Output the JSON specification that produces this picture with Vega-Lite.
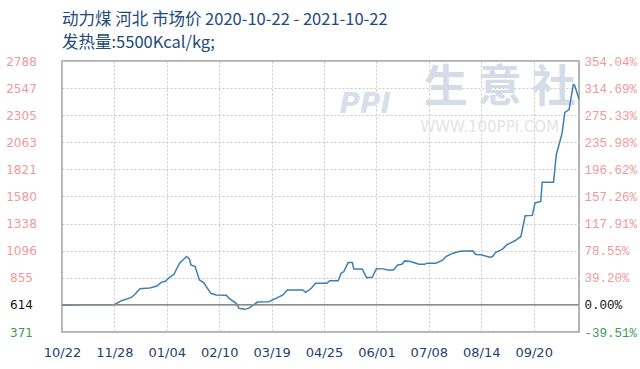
{
  "$schema": "https://vega.github.io/schema/vega-lite/v6.json",
  "width": 517,
  "height": 271,
  "autosize": "none",
  "padding": {"left": 62, "top": 61, "right": 61, "bottom": 37},
  "background": "white",
  "config": {
    "view": {"stroke": "#9a9a9a", "strokeWidth": 1.5},
    "axis": {"domain": false, "ticks": false, "tickSize": 0}
  },
  "title": {
    "text": ["动力煤 河北 市场价 2020-10-22 - 2021-10-22", "发热量:5500Kcal/kg;"],
    "anchor": "start",
    "frame": "group",
    "font": "Noto Sans CJK SC",
    "fontSize": 16.5,
    "fontWeight": "normal",
    "color": "#22497a",
    "lineHeight": 23,
    "offset": 4
  },
  "datasets": {
    "price": [
      {"date": "2020-10-22T00:00:00", "price": 609},
      {"date": "2020-11-02T00:00:00", "price": 612},
      {"date": "2020-11-03T00:00:00", "price": 614},
      {"date": "2020-11-28T00:00:00", "price": 614},
      {"date": "2020-12-03T00:00:00", "price": 650},
      {"date": "2020-12-10T00:00:00", "price": 680},
      {"date": "2020-12-12T00:00:00", "price": 701},
      {"date": "2020-12-16T00:00:00", "price": 757},
      {"date": "2020-12-23T00:00:00", "price": 763},
      {"date": "2020-12-28T00:00:00", "price": 781},
      {"date": "2020-12-31T00:00:00", "price": 814},
      {"date": "2021-01-03T00:00:00", "price": 823},
      {"date": "2021-01-06T00:00:00", "price": 859},
      {"date": "2021-01-09T00:00:00", "price": 886},
      {"date": "2021-01-13T00:00:00", "price": 984},
      {"date": "2021-01-15T00:00:00", "price": 1008},
      {"date": "2021-01-18T00:00:00", "price": 1044},
      {"date": "2021-01-20T00:00:00", "price": 1020},
      {"date": "2021-01-21T00:00:00", "price": 969},
      {"date": "2021-01-24T00:00:00", "price": 954},
      {"date": "2021-01-27T00:00:00", "price": 835},
      {"date": "2021-01-30T00:00:00", "price": 811},
      {"date": "2021-02-04T00:00:00", "price": 716},
      {"date": "2021-02-08T00:00:00", "price": 701},
      {"date": "2021-02-15T00:00:00", "price": 698},
      {"date": "2021-02-17T00:00:00", "price": 671},
      {"date": "2021-02-22T00:00:00", "price": 627},
      {"date": "2021-02-24T00:00:00", "price": 582},
      {"date": "2021-02-28T00:00:00", "price": 573},
      {"date": "2021-03-03T00:00:00", "price": 584},
      {"date": "2021-03-06T00:00:00", "price": 611},
      {"date": "2021-03-09T00:00:00", "price": 638},
      {"date": "2021-03-17T00:00:00", "price": 641},
      {"date": "2021-03-22T00:00:00", "price": 671},
      {"date": "2021-03-27T00:00:00", "price": 701},
      {"date": "2021-03-30T00:00:00", "price": 746},
      {"date": "2021-04-10T00:00:00", "price": 746},
      {"date": "2021-04-12T00:00:00", "price": 725},
      {"date": "2021-04-16T00:00:00", "price": 761},
      {"date": "2021-04-19T00:00:00", "price": 806},
      {"date": "2021-04-27T00:00:00", "price": 806},
      {"date": "2021-04-29T00:00:00", "price": 829},
      {"date": "2021-05-05T00:00:00", "price": 829},
      {"date": "2021-05-07T00:00:00", "price": 895},
      {"date": "2021-05-09T00:00:00", "price": 910},
      {"date": "2021-05-12T00:00:00", "price": 990},
      {"date": "2021-05-15T00:00:00", "price": 990},
      {"date": "2021-05-16T00:00:00", "price": 934},
      {"date": "2021-05-22T00:00:00", "price": 934},
      {"date": "2021-05-25T00:00:00", "price": 856},
      {"date": "2021-05-29T00:00:00", "price": 859},
      {"date": "2021-06-01T00:00:00", "price": 936},
      {"date": "2021-06-06T00:00:00", "price": 934},
      {"date": "2021-06-09T00:00:00", "price": 925},
      {"date": "2021-06-13T00:00:00", "price": 925},
      {"date": "2021-06-16T00:00:00", "price": 969},
      {"date": "2021-06-19T00:00:00", "price": 975},
      {"date": "2021-06-21T00:00:00", "price": 1005},
      {"date": "2021-06-25T00:00:00", "price": 999},
      {"date": "2021-07-01T00:00:00", "price": 976},
      {"date": "2021-07-05T00:00:00", "price": 976},
      {"date": "2021-07-07T00:00:00", "price": 985},
      {"date": "2021-07-13T00:00:00", "price": 985},
      {"date": "2021-07-18T00:00:00", "price": 1014},
      {"date": "2021-07-20T00:00:00", "price": 1044},
      {"date": "2021-07-25T00:00:00", "price": 1074},
      {"date": "2021-07-30T00:00:00", "price": 1092},
      {"date": "2021-08-08T00:00:00", "price": 1095},
      {"date": "2021-08-10T00:00:00", "price": 1062},
      {"date": "2021-08-14T00:00:00", "price": 1059},
      {"date": "2021-08-20T00:00:00", "price": 1038},
      {"date": "2021-08-22T00:00:00", "price": 1044},
      {"date": "2021-08-24T00:00:00", "price": 1079},
      {"date": "2021-08-29T00:00:00", "price": 1110},
      {"date": "2021-09-01T00:00:00", "price": 1148},
      {"date": "2021-09-07T00:00:00", "price": 1187},
      {"date": "2021-09-11T00:00:00", "price": 1223},
      {"date": "2021-09-14T00:00:00", "price": 1408},
      {"date": "2021-09-19T00:00:00", "price": 1411},
      {"date": "2021-09-21T00:00:00", "price": 1522},
      {"date": "2021-09-25T00:00:00", "price": 1536},
      {"date": "2021-09-26T00:00:00", "price": 1706},
      {"date": "2021-10-04T00:00:00", "price": 1706},
      {"date": "2021-10-06T00:00:00", "price": 1954},
      {"date": "2021-10-10T00:00:00", "price": 2140},
      {"date": "2021-10-12T00:00:00", "price": 2330},
      {"date": "2021-10-15T00:00:00", "price": 2355},
      {"date": "2021-10-18T00:00:00", "price": 2578},
      {"date": "2021-10-19T00:00:00", "price": 2570},
      {"date": "2021-10-22T00:00:00", "price": 2446}
    ],
    "marks": [
      {"label": "生 意 社", "kind": "big"},
      {"label": "WWW.100PPI.COM", "kind": "small"},
      {"label": "PPI", "kind": "logo"}
    ]
  },
  "resolve": {"axis": {"y": "independent"}},
  "layer": [
    {
      "data": {"name": "marks"},
      "transform": [{"filter": "datum.kind == 'big'"}],
      "mark": {"type": "text", "font": "Noto Sans CJK SC", "fontSize": 44, "fontWeight": "bold", "color": "#d5dce8"},
      "encoding": {
        "text": {"field": "label"},
        "x": {"datum": {"year": 2021, "month": 8, "date": 27}, "type": "temporal"},
        "y": {"datum": 2534, "type": "quantitative", "axis": null}
      }
    },
    {
      "data": {"name": "marks"},
      "transform": [{"filter": "datum.kind == 'small'"}],
      "mark": {"type": "text", "font": "DejaVu Sans", "fontSize": 15, "color": "#e4e4e4"},
      "encoding": {
        "text": {"field": "label"},
        "x": {"datum": {"year": 2021, "month": 8, "date": 20}, "type": "temporal"},
        "y": {"datum": 2195, "type": "quantitative", "axis": null}
      }
    },
    {
      "data": {"name": "marks"},
      "transform": [{"filter": "datum.kind == 'logo'"}],
      "mark": {"type": "text", "font": "DejaVu Sans", "fontSize": 28, "fontWeight": "bold", "fontStyle": "italic", "color": "#d8dfea"},
      "encoding": {
        "text": {"field": "label"},
        "x": {"datum": {"year": 2021, "month": 5, "date": 24}, "type": "temporal"},
        "y": {"datum": 2400, "type": "quantitative", "axis": null}
      }
    },
    {
      "data": {"name": "price"},
      "mark": {"type": "line", "color": "#3f7fb3", "strokeWidth": 1.5, "interpolate": "linear"},
      "encoding": {
        "x": {
          "field": "date",
          "type": "temporal",
          "scale": {"domain": [{"year": 2020, "month": 10, "date": 22}, {"year": 2021, "month": 10, "date": 22}], "nice": false},
          "axis": {
            "title": null,
            "format": "%m/%d",
            "values": [
              {"year": 2020, "month": 10, "date": 22},
              {"year": 2020, "month": 11, "date": 28},
              {"year": 2021, "month": 1, "date": 4},
              {"year": 2021, "month": 2, "date": 10},
              {"year": 2021, "month": 3, "date": 19},
              {"year": 2021, "month": 4, "date": 25},
              {"year": 2021, "month": 6, "date": 1},
              {"year": 2021, "month": 7, "date": 8},
              {"year": 2021, "month": 8, "date": 14},
              {"year": 2021, "month": 9, "date": 20}
            ],
            "labelFont": "DejaVu Sans",
            "labelFontSize": 13,
            "labelColor": "#1e3f6f",
            "labelPadding": 14,
            "labelFlush": false,
            "labelOverlap": false,
            "grid": true,
            "gridColor": "#c8c8c8",
            "gridDash": [2, 2],
            "gridWidth": 1
          }
        },
        "y": {
          "field": "price",
          "type": "quantitative",
          "scale": {"domain": [371, 2788], "nice": false, "zero": false},
          "axis": {
            "title": null,
            "orient": "left",
            "values": [371, 614, 855, 1096, 1338, 1580, 1821, 2063, 2305, 2547, 2788],
            "format": "d",
            "labelFont": "DejaVu Sans",
            "labelFontSize": 12,
            "labelAlign": "center",
            "labelPadding": 41,
            "labelOverlap": false,
            "labelFlush": false,
            "labelColor": {
              "condition": [
                {"test": "datum.value > 614", "value": "#ee9a9a"},
                {"test": "datum.value < 614", "value": "#3f9a5c"}
              ],
              "value": "#111111"
            },
            "grid": true,
            "gridColor": "#c8c8c8",
            "gridDash": [2, 2],
            "gridWidth": 1
          }
        }
      }
    },
    {
      "data": {"values": [{"base": 614}]},
      "mark": {"type": "rule", "color": "#8a8a8a", "strokeWidth": 1.5},
      "encoding": {
        "y": {
          "field": "base",
          "type": "quantitative",
          "axis": {
            "title": null,
            "orient": "right",
            "values": [371, 614, 855, 1096, 1338, 1580, 1821, 2063, 2305, 2547, 2788],
            "labelExpr": "['-39.51%','0.00%','39.20%','78.55%','117.91%','157.26%','196.62%','235.98%','275.33%','314.69%','354.04%'][indexof([371,614,855,1096,1338,1580,1821,2063,2305,2547,2788], datum.value)]",
            "labelFont": "Liberation Mono",
            "labelFontSize": 12.5,
            "labelPadding": 5,
            "labelOverlap": false,
            "labelFlush": false,
            "labelColor": {
              "condition": [
                {"test": "datum.value > 614", "value": "#ee9a9a"},
                {"test": "datum.value < 614", "value": "#3f9a5c"}
              ],
              "value": "#111111"
            },
            "grid": false
          }
        }
      }
    }
  ]
}
